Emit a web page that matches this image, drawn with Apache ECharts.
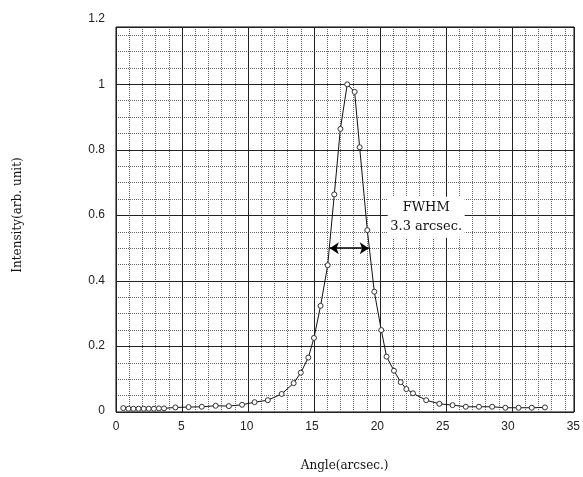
<!DOCTYPE html>
<html><head><meta charset="utf-8">
<script src="https://cdn.jsdelivr.net/npm/echarts@6/dist/echarts.min.js"></script>
<style>html,body{margin:0;padding:0;background:#fff}#c{width:583px;height:477px}</style>
</head><body><div id="c"></div>
<script>
// Data
const angle = [0.55,0.94,1.32,1.71,2.10,2.48,2.87,3.25,3.64,4.5,5.5,6.5,7.55,8.55,9.55,10.5,11.5,12.55,13.46,14.0,14.57,15.0,15.5,16.04,16.54,17.0,17.52,18.08,18.46,19.04,19.57,20.1,20.5,21.06,21.57,22.0,22.5,23.5,24.5,25.5,26.5,27.5,28.5,29.5,30.5,31.5,32.5];
const intensity = [0.012,0.010,0.010,0.010,0.010,0.010,0.010,0.011,0.011,0.014,0.015,0.016,0.019,0.018,0.022,0.030,0.036,0.055,0.088,0.120,0.166,0.226,0.324,0.448,0.664,0.864,1.0,0.977,0.808,0.555,0.367,0.250,0.169,0.126,0.091,0.070,0.057,0.036,0.025,0.021,0.016,0.016,0.016,0.013,0.013,0.013,0.014];
// axis ranges / ticks
const xLabelMax = 35, xMajor = 5, xMinor = 1, xClip = 34.7;
const yLabelMax = 1.2, yMajor = 0.2, yMinor = 0.05, yClip = 1.175;
const xTitle = 'Angle(arcsec.)';
const yTitle = 'Intensity(arb. unit)';
// FWHM annotation
const fwhmLevel = 0.5, fwhmLeft = 16.2, fwhmRight = 19.15;
const noteAt = [23.5, 0.594];
const noteTitle = 'FWHM', noteText = '3.3 arcsec.';

const chart = echarts.init(document.getElementById('c'), null, {renderer:'canvas'});
const tickFont = {fontFamily:'Liberation Sans', fontSize:12, color:'#222'};
const titleFont = {fontFamily:'DejaVu Serif', fontSize:12, color:'#111'};
const minorLine = {show:true, lineStyle:{color:'#666', width:1, type:[1,1]}};
const majorLine = {show:true, lineStyle:{color:'#222', width:1, type:'solid'}};
const hidden = {axisLine:{show:false}, axisTick:{show:false}, axisLabel:{show:false}};

chart.setOption({
  animation:false,
  backgroundColor:'#fff',
  grid:[
    {left:116, right:5, top:19, bottom:65, show:false},
    {left:116, right:9, top:27, bottom:65, show:true, borderColor:'#000', borderWidth:1, backgroundColor:'transparent'}
  ],
  xAxis:[
    {type:'value', gridIndex:0, min:0, max:xLabelMax, interval:xMajor,
     axisLine:{show:false}, axisTick:{show:false}, splitLine:{show:false},
     axisLabel:Object.assign({margin:10}, tickFont),
     name:xTitle, nameLocation:'middle', nameGap:49, nameTextStyle:titleFont},
    Object.assign({type:'value', gridIndex:1, min:0, max:xClip, interval:xMinor, z:0, splitLine:minorLine}, hidden),
    Object.assign({type:'value', gridIndex:1, min:0, max:xClip, interval:xMajor, z:1, splitLine:majorLine}, hidden)
  ],
  yAxis:[
    {type:'value', gridIndex:0, min:0, max:yLabelMax, interval:yMajor,
     axisLine:{show:false}, axisTick:{show:false}, splitLine:{show:false},
     axisLabel:Object.assign({margin:11}, tickFont),
     name:yTitle, nameLocation:'middle', nameGap:92, nameTextStyle:titleFont},
    Object.assign({type:'value', gridIndex:1, min:0, max:yClip, interval:yMinor, z:0, splitLine:minorLine}, hidden),
    Object.assign({type:'value', gridIndex:1, min:0, max:yClip, interval:yMajor, z:1, splitLine:majorLine}, hidden)
  ],
  series:[{
    type:'line', xAxisIndex:2, yAxisIndex:2,
    data: angle.map((a,i)=>[a, intensity[i]]),
    symbol:'circle', symbolSize:5, showAllSymbol:true, silent:true,
    lineStyle:{color:'#111', width:1},
    itemStyle:{color:'#fff', borderColor:'#333', borderWidth:1},
    markLine:{
      silent:true, symbol:['arrow','arrow'], symbolSize:9, label:{show:false},
      lineStyle:{color:'#000', width:1.5, type:'solid'},
      emphasis:{disabled:true},
      data:[[{coord:[fwhmLeft, fwhmLevel]},{coord:[fwhmRight, fwhmLevel]}]]
    },
    markPoint:{
      silent:true,
      data:[{coord:noteAt, symbol:'rect', symbolSize:[77,41],
        itemStyle:{color:'#fff', borderWidth:0},
        label:{show:true, position:'inside',
          formatter:'{a|'+noteTitle+'}\n{b|'+noteText+'}',
          rich:{
            a:{fontFamily:'DejaVu Serif', fontSize:13, color:'#111', lineHeight:19},
            b:{fontFamily:'DejaVu Serif', fontSize:13, color:'#111', lineHeight:19}
          }}}]
    }
  }]
});
</script></body></html>
